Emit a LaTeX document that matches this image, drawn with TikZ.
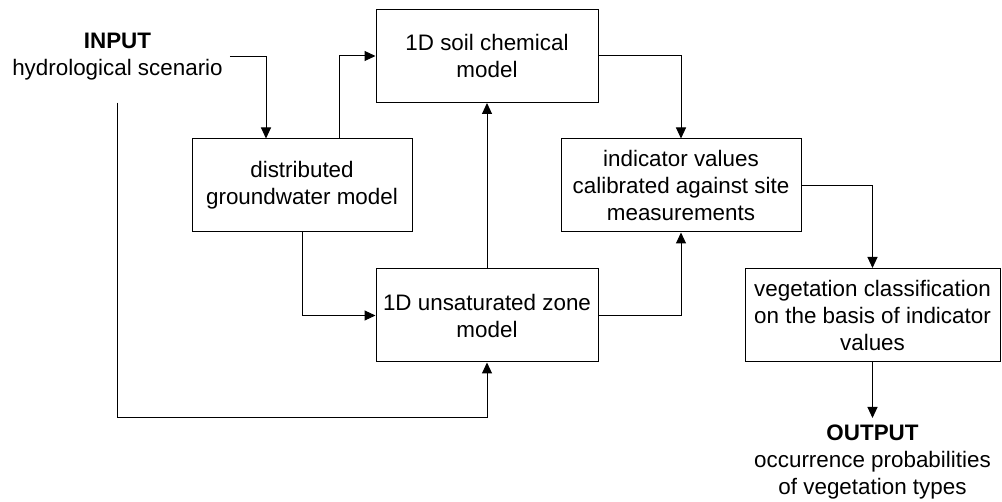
\documentclass[tikz,border=0pt]{standalone}
\usepackage{fontspec}
\setmainfont{Liberation Sans}
\usetikzlibrary{arrows.meta}
\usetikzlibrary{positioning}

\begin{document}
\begin{tikzpicture}[x=0.5pt,y=-0.5pt,->,>={Triangle[length=5.5pt,width=5pt]},line width=0.5pt,
    font=\fontsize{11.2}{13.5}\selectfont,
    box/.style={draw,align=center,inner sep=0pt,minimum height=46.5pt},
    text node/.style={align=center}]
  \useasboundingbox (0,0) rectangle (1002,502);
    \node[text node] (input) at (117.5,57) {\textbf{INPUT}\\hydrological scenario};
    \node[box,minimum width=111pt] (soil) at (487,56) {1D soil chemical\\model};
    \node[box,minimum width=110pt] (dist) at (302,185.5) {distributed\\groundwater model};
    \node[box,minimum width=120pt] (ind) at (681,185.5) {indicator values\\calibrated against site\\measurements};
    \node[box,minimum width=111pt] (unsat) at (487,315.5) {1D unsaturated zone\\model};
    \node[box,minimum width=127.5pt] (veg) at (872.5,315) {vegetation classification\\on the basis of indicator\\values};
    \node[text node,anchor=north] (output) at (872.5,418) {\textbf{OUTPUT}\\occurrence probabilities\\of vegetation types};
    \coordinate (corner) at (117.5,418);

    % input side
    \draw (input.east) -| ([xshift=-18pt]dist.north);
    \draw[shorten <=7.5pt] (input.south) -- (corner) -| (unsat.south);
    \draw ([xshift=18.5pt]dist.north) |- (soil.west);
    \draw (dist.south) |- (unsat.west);
    \path[->] (unsat) edge (soil);
    % output side
    \draw (soil.east) -| (ind.north);
    \draw (unsat.east) -| (ind.south);
    \draw (ind.east) -| (veg.north);
    \path[->] (veg) edge (output);
\end{tikzpicture}
\end{document}
